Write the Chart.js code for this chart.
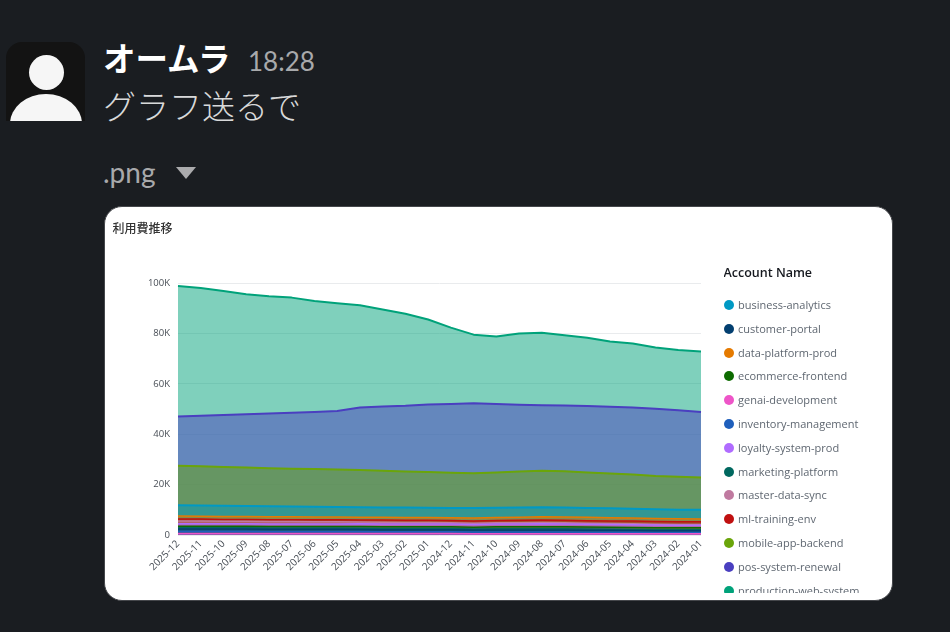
<!DOCTYPE html>
<html lang="ja"><head><meta charset="utf-8">
<script src="https://cdn.jsdelivr.net/npm/chart.js@4"></script>
<style>
html,body{margin:0;padding:0;width:950px;height:632px;overflow:hidden;background:#1a1d21}
.abs{position:absolute;white-space:nowrap;line-height:1}
#avatar{left:6px;top:42px;width:79px;height:79px;background:#131313;border-radius:16px 16px 0 0;overflow:hidden}
#head{position:absolute;left:23px;top:13px;width:35px;height:35px;border-radius:50%;background:#f6f6f6}
#body{position:absolute;left:4px;top:52px;width:72px;height:60px;border-radius:50%;background:#f6f6f6}
#name{left:103px;top:33px;font:700 32.5px "Noto Sans CJK JP";color:#fff}
#time{left:248px;top:45px;font:400 26px Lato;color:#a8a9ab}
#msg{left:103px;top:81px;font:300 33px "Noto Sans CJK JP";color:#d8d9da}
#file{left:103px;top:155px;font:400 28px Lato;color:#a8a9ab}
#tri{left:176px;top:167px;width:0;height:0;border-left:10px solid transparent;border-right:10px solid transparent;border-top:12px solid #ababad}
#card{position:absolute;left:104px;top:206px;width:787px;height:393px;background:#fff;border:1.5px solid #45474b;border-radius:18px;overflow:hidden}
#inner{position:absolute;left:-1.5px;top:-1.5px;width:790px;height:396px;filter:blur(.6px)}
#title{left:9px;top:13px;font:500 12px "Noto Sans CJK JP";color:#333}
#cv{position:absolute;left:0;top:0}
#legend{position:absolute;left:620px;top:0;width:170px;height:387px;overflow:hidden}
#ltitle{left:0;top:58px;font:600 12.5px "Open Sans";color:#16191f}
.item{position:absolute;left:0;height:14px;font:400 11px "Open Sans";color:#5f6771;line-height:14px;white-space:nowrap}
.dot{position:absolute;left:.5px;top:2px;width:10px;height:10px;border-radius:50%}
.lab{position:absolute;left:14.5px;top:0}
</style></head><body>
<div class="abs" id="avatar"><div id="head"></div><div id="body"></div></div>
<div class="abs" id="name">オームラ</div>
<div class="abs" id="time">18:28</div>
<div class="abs" id="msg">グラフ送るで</div>
<div class="abs" id="file">.png</div>
<div class="abs" id="tri"></div>
<div id="card"><div id="inner">
<div class="abs" id="title">利用費推移</div>
<canvas id="cv" width="620" height="396"></canvas>
<div id="legend"><div class="abs" id="ltitle">Account Name</div></div>
</div></div>
<script>
const months = ["2025-12","2025-11","2025-10","2025-09","2025-08","2025-07","2025-06","2025-05","2025-04","2025-03","2025-02","2025-01","2024-12","2024-11","2024-10","2024-09","2024-08","2024-07","2024-06","2024-05","2024-04","2024-03","2024-02","2024-01"];
const legendNames = ["business-analytics","customer-portal","data-platform-prod","ecommerce-frontend","genai-development","inventory-management","loyalty-system-prod","marketing-platform","master-data-sync","ml-training-env","mobile-app-backend","pos-system-renewal","production-web-system"];
const colors = {"business-analytics":"#0099c4","customer-portal":"#033f70","data-platform-prod":"#e57a00","ecommerce-frontend":"#0d6b00","genai-development":"#ee55c8","inventory-management":"#1f5fbc","loyalty-system-prod":"#b06cff","marketing-platform":"#00685f","master-data-sync":"#c07aa0","ml-training-env":"#c01010","mobile-app-backend":"#6aa50a","pos-system-renewal":"#4a3fc0","production-web-system":"#00a27a"};
// monthly cost in thousands, stacked from the bottom of the chart upward
const genai      = [0.6,0.6,0.6,0.6,0.6,0.6,0.6,0.6,0.6,0.6,0.6,0.6,0.6,0.5,0.5,0.5,0.5,0.5,0.5,0.5,0.5,0.5,0.5,0.5];
const inventory  = [0.9,0.9,0.9,0.9,0.8,0.8,0.8,0.8,0.8,0.7,0.7,0.7,0.7,0.7,0.7,0.7,0.7,0.7,0.6,0.6,0.6,0.5,0.5,0.5];
const customer   = [0.9,0.9,0.9,0.9,0.9,0.9,0.9,0.9,0.8,0.8,0.8,0.8,0.8,0.8,0.8,0.8,0.8,0.8,0.8,0.8,0.7,0.7,0.7,0.7];
const marketing  = [0.5,0.5,0.5,0.5,0.5,0.5,0.5,0.5,0.5,0.5,0.5,0.5,0.5,0.4,0.5,0.5,0.5,0.5,0.5,0.4,0.4,0.4,0.4,0.4];
const ecommerce  = [0.6,0.6,0.6,0.6,0.6,0.6,0.6,0.6,0.7,0.7,0.7,0.7,0.7,0.7,0.8,0.8,0.8,0.8,0.8,0.8,0.8,0.8,0.8,0.8];
const loyalty    = [1.0,1.0,1.0,1.0,1.0,1.0,1.0,1.0,1.1,1.1,1.1,1.1,1.1,1.1,1.1,1.1,1.2,1.1,1.1,1.1,1.1,1.1,1.0,1.0];
const master     = [1.1,1.1,1.0,1.0,1.0,1.0,0.9,0.9,0.7,0.7,0.6,0.6,0.5,0.5,0.5,0.5,0.5,0.5,0.4,0.4,0.4,0.3,0.3,0.3];
const ml         = [0.7,0.7,0.7,0.7,0.7,0.7,0.8,0.8,0.8,0.9,0.9,0.9,0.9,0.9,0.9,1.0,1.0,1.0,1.0,1.0,1.1,1.1,1.1,1.1];
const dataProd   = [1.2,1.1,1.1,1.1,1.1,1.1,1.0,1.0,1.0,1.0,1.0,1.0,1.0,1.1,1.1,1.1,1.2,1.2,1.3,1.2,1.1,1.1,1.1,1.0];
const business   = [4.3,4.3,4.3,4.2,4.2,4.1,4.1,4.0,4.0,3.9,4.0,3.9,3.9,4.0,3.9,3.9,3.8,3.8,3.7,3.8,3.7,3.7,3.6,3.7];
const mobile     = [15.7,15.6,15.4,15.3,15.1,15.0,15.0,14.9,14.8,14.6,14.3,14.2,14.0,13.8,14.0,14.3,14.5,14.4,14.1,13.8,13.6,13.2,13.1,12.8];
const pos        = [19.5,20.0,20.6,21.1,21.7,22.2,22.6,23.2,24.8,25.5,26.1,26.8,27.3,27.8,27.2,26.5,26.0,26.1,26.4,26.5,26.6,26.7,26.4,26.0];
const production = [51.8,50.7,49.2,47.6,46.5,45.7,44.1,42.8,40.6,38.5,36.5,33.7,30.3,27.2,26.8,28.3,28.8,27.9,27.1,25.9,25.4,24.3,23.9,24.0];
const yTicks = [0,20,40,60,80,100];

const stack = [["genai-development",genai],["inventory-management",inventory],["customer-portal",customer],["marketing-platform",marketing],["ecommerce-frontend",ecommerce],["loyalty-system-prod",loyalty],["master-data-sync",master],["ml-training-env",ml],["data-platform-prod",dataProd],["business-analytics",business],["mobile-app-backend",mobile],["pos-system-renewal",pos],["production-web-system",production]];
const thinCount = 9;

const legend = document.getElementById('legend');
legendNames.forEach((n,i)=>{
  const d=document.createElement('div');d.className='item';d.style.top=(92.5+i*23.8)+'px';
  d.innerHTML='<span class="dot" style="background:'+colors[n]+'"></span><span class="lab">'+n+'</span>';
  legend.appendChild(d);
});
Chart.defaults.animation=false;
new Chart(document.getElementById('cv'),{
  type:'line',
  data:{labels:months,datasets:stack.map(([n,v],i)=>({label:n,data:v,borderColor:colors[n],backgroundColor:colors[n]+'80',fill:'origin',stack:'a',borderWidth:i<thinCount?1.5:2,pointRadius:0,tension:0,borderJoinStyle:'round'}))},
  options:{responsive:false,animation:false,
    layout:{padding:{left:0,right:23,top:77,bottom:0}},
    plugins:{legend:{display:false},title:{display:false},tooltip:{enabled:false}},
    scales:{
      x:{stacked:true,offset:false,grid:{display:false,drawTicks:false},border:{display:false},
        afterFit(s){s.height=67;},
        ticks:{autoSkip:false,minRotation:45,maxRotation:45,padding:3,color:'#474d55',font:{family:'Open Sans',size:10,weight:'500'}}},
      y:{stacked:true,min:0,max:100,afterFit(s){s.width=74;},
        afterBuildTicks(s){s.ticks=yTicks.map(v=>({value:v}));},
        grid:{color:'#e9ebed',drawTicks:false},border:{display:false},
        ticks:{padding:8,color:'#474d55',font:{family:'Open Sans',size:9.5,weight:'500'},callback:v=>v===0?'0':v+'K'}}
    }}
});
</script></body></html>
